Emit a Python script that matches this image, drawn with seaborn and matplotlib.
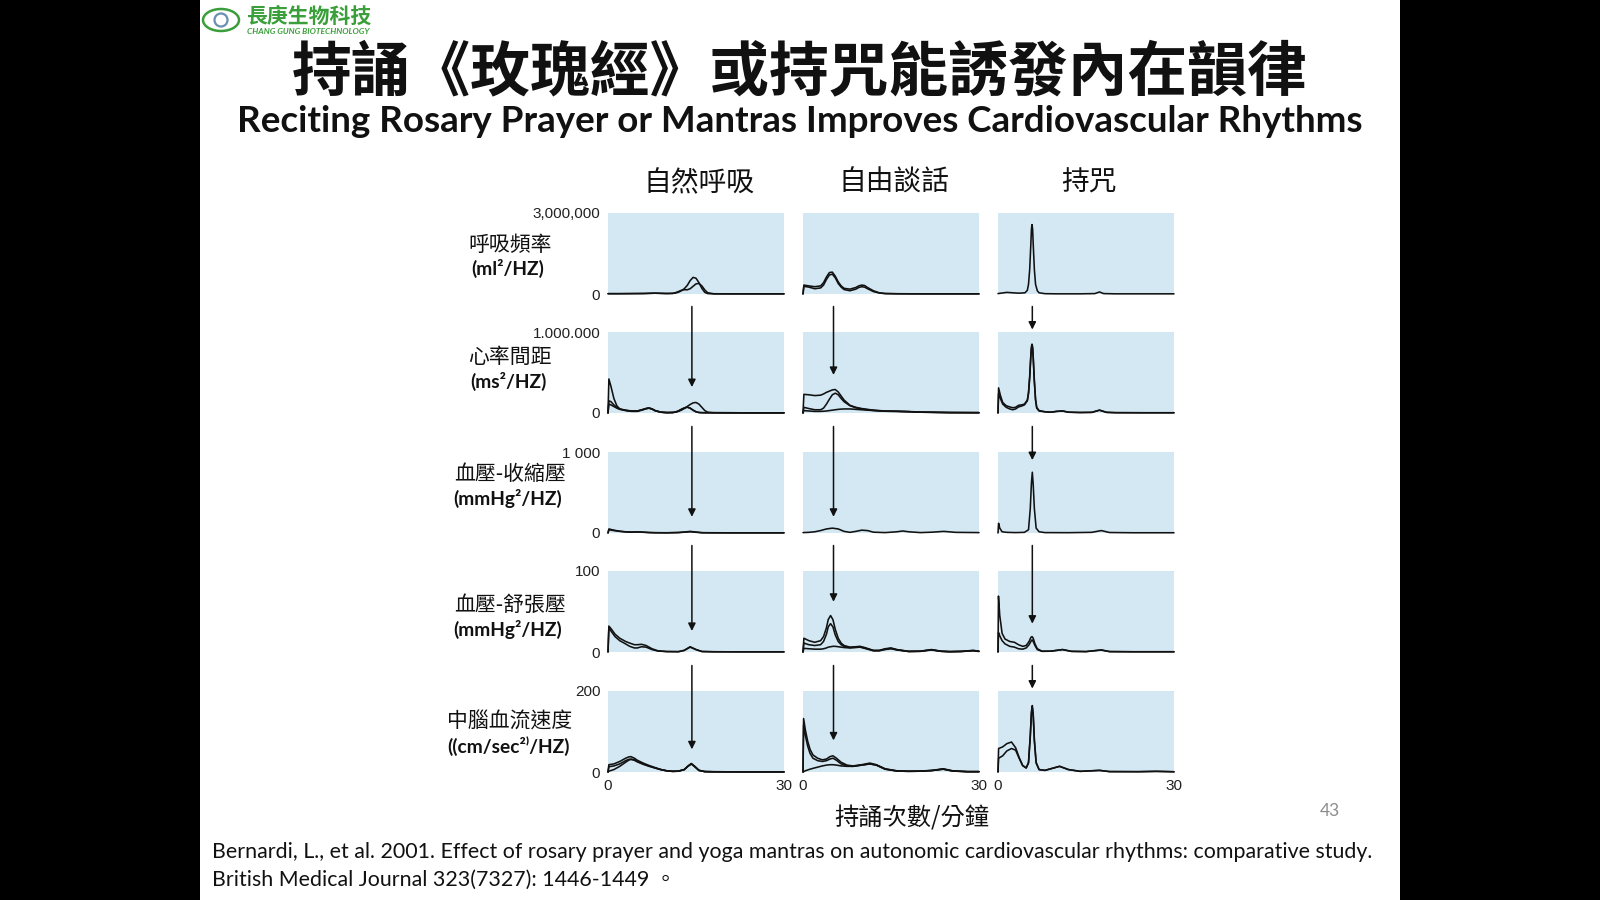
import matplotlib
matplotlib.use("Agg")
import matplotlib.pyplot as plt
from matplotlib.patches import Rectangle, Ellipse
import pandas as pd
import seaborn as sns

# ---------------- values (x = cycles per minute) ----------------
# respiration (ml^2/Hz), values in thousands
resp_nat_f = [0, 2, 4, 6, 8, 9, 10, 11, 11.5, 12, 12.5, 13, 13.5, 14, 14.5, 15, 15.5, 16, 16.5, 17, 18, 20, 24, 30]
resp_nat_a = [12, 12, 15, 18, 30, 24, 18, 21, 36, 66, 120, 195, 315, 495, 615, 585, 420, 210, 60, 15, 6, 6, 6, 6]
resp_nat_b = [12, 12, 15, 18, 30, 24, 18, 24, 48, 90, 135, 159, 156, 195, 285, 375, 390, 300, 150, 45, 9, 6, 6, 6]

resp_talk_f = [0, 0.15, 1, 2, 3, 3.5, 4, 4.5, 5, 5.5, 6, 6.5, 7, 8, 9, 9.5, 10, 10.5, 11, 12, 13, 14, 16, 20, 25, 30]
resp_talk_a = [0, 330, 300, 270, 300, 420, 630, 795, 810, 660, 450, 300, 210, 180, 240, 300, 330, 315, 240, 120, 45, 18, 9, 6, 6, 6]
resp_talk_b = [0, 285, 255, 195, 225, 330, 540, 705, 735, 600, 390, 255, 165, 120, 180, 240, 270, 255, 195, 90, 36, 15, 9, 6, 6, 6]

resp_mant_f = [0, 1, 1.5, 2.5, 3.5, 4.6, 5.0, 5.2, 5.4, 5.6, 5.7, 5.8, 5.9, 6.0, 6.2, 6.4, 6.7, 7, 8, 10, 14, 16.5, 17.3, 18, 20, 25, 30]
resp_mant_a = [15, 45, 60, 45, 30, 45, 135, 360, 900, 1860, 2400, 2570, 2400, 1860, 900, 360, 120, 45, 12, 6, 6, 15, 75, 15, 6, 6, 6]

# RR interval (ms^2/Hz), values in thousands
rr_nat_f = [0, 0.15, 0.5, 1, 1.5, 2, 3, 4, 5, 6, 6.5, 7, 7.5, 8, 9, 10, 11, 11.5, 12, 12.5, 13, 13.5, 14, 14.5, 15, 15.5, 16, 16.5, 17, 18, 20, 25, 30]
rr_nat_a = [0, 420, 330, 180, 90, 50, 30, 20, 20, 40, 55, 60, 50, 30, 10, 5, 6, 10, 20, 35, 55, 80, 105, 125, 130, 110, 70, 30, 10, 4, 3, 2, 2]
rr_nat_b = [0, 150, 140, 100, 70, 50, 35, 25, 25, 45, 55, 60, 50, 30, 10, 5, 6, 12, 25, 45, 62, 72, 60, 35, 15, 6, 4, 3, 3, 3, 3, 2, 2]
rr_nat_c = [0, 110, 100, 80, 60, 45, 32, 24, 24, 44, 55, 60, 50, 30, 10, 5, 6, 12, 25, 45, 62, 72, 60, 35, 15, 6, 4, 3, 3, 3, 3, 2, 2]

rr_talk_f = [0, 0.15, 1, 2, 3, 3.5, 4, 4.5, 5, 5.5, 6, 6.5, 7, 8, 9, 10, 11, 12, 14, 16, 18, 20, 25, 30]
rr_talk_a = [0, 230, 225, 215, 220, 235, 255, 270, 285, 290, 260, 210, 160, 95, 70, 55, 45, 35, 25, 22, 18, 12, 6, 4]
rr_talk_b = [0, 70, 55, 40, 40, 60, 110, 170, 225, 245, 225, 180, 140, 90, 65, 50, 40, 32, 22, 20, 16, 10, 5, 4]
rr_talk_c = [0, 30, 25, 20, 20, 22, 25, 30, 35, 40, 45, 48, 50, 50, 45, 40, 35, 30, 22, 20, 16, 10, 5, 4]

rr_mant_f = [0, 0.1, 0.4, 0.8, 1.4, 2, 2.5, 3, 3.5, 4, 4.5, 5, 5.2, 5.4, 5.6, 5.7, 5.8, 5.9, 6.0, 6.2, 6.4, 6.6, 7, 8, 9, 10, 11, 12, 14, 16, 17.3, 18.5, 20, 25, 30]
rr_mant_a = [0, 310, 220, 130, 90, 75, 65, 70, 95, 100, 110, 160, 250, 450, 720, 820, 850, 820, 700, 400, 170, 70, 30, 15, 10, 20, 25, 10, 6, 8, 35, 8, 4, 3, 3]
rr_mant_b = [0, 240, 180, 110, 70, 50, 40, 50, 75, 85, 100, 150, 240, 430, 700, 800, 820, 800, 680, 380, 160, 60, 25, 15, 10, 20, 25, 10, 6, 8, 35, 8, 4, 3, 3]

# systolic pressure (mmHg^2/Hz)
sbp_nat_f = [0, 0.15, 1, 2, 3, 4, 5, 6, 7, 8, 10, 12, 13, 14, 15, 16, 18, 22, 26, 30]
sbp_nat_a = [0, 50, 35, 22, 15, 12, 14, 11, 6, 4, 3, 6, 12, 20, 12, 4, 3, 2, 2, 2]
sbp_nat_b = [0, 40, 30, 20, 13, 10, 12, 9, 5, 3, 2, 5, 10, 15, 9, 3, 2, 2, 2, 2]

sbp_talk_f = [0, 1, 2, 3, 4, 5, 6, 7, 8, 9, 10, 11, 12, 14, 16, 17, 18, 20, 22, 24, 26, 30]
sbp_talk_a = [5, 8, 15, 30, 50, 60, 50, 20, 8, 20, 35, 30, 10, 5, 15, 25, 15, 5, 10, 20, 8, 5]

sbp_mant_f = [0, 0.1, 0.3, 0.7, 1.5, 3, 4.5, 5.2, 5.5, 5.7, 5.85, 6.0, 6.2, 6.5, 7, 8, 12, 16, 17.6, 19, 23, 30]
sbp_mant_a = [0, 120, 60, 15, 8, 5, 8, 40, 300, 620, 750, 600, 300, 60, 15, 5, 4, 8, 30, 6, 3, 3]

# diastolic pressure (mmHg^2/Hz)
dbp_nat_f = [0, 0.15, 0.6, 1.2, 2, 3, 3.7, 4.5, 5, 5.7, 6.5, 7.5, 8.5, 10, 12, 13, 14, 15, 16, 18, 22, 26, 30]
dbp_nat_a = [0, 32, 28, 22, 17, 13, 11, 9, 9, 9.5, 8, 4, 1.5, 0.6, 0.4, 2, 6.5, 3, 0.6, 0.3, 0.2, 0.2, 0.2]
dbp_nat_b = [0, 30, 25, 19, 14, 10, 7, 5, 5, 6.5, 6, 3, 1.2, 0.5, 0.4, 2, 6, 3, 0.6, 0.3, 0.2, 0.2, 0.2]

dbp_talk_f = [0, 0.15, 1, 2, 3, 3.5, 4, 4.3, 4.7, 5.1, 5.5, 6, 6.5, 7, 8, 9, 9.7, 10.5, 12, 13, 14, 15, 16, 18, 20, 21.9, 23.5, 25, 27, 29, 30]
dbp_talk_a = [0, 17, 14, 12, 14, 19, 30, 40, 45, 40, 28, 17, 11, 8, 6, 6.5, 7, 5.5, 2, 2, 4, 5, 3, 0.8, 1, 3, 1, 0.5, 0.8, 2, 1]
dbp_talk_b = [0, 11, 9, 8, 9, 13, 22, 31, 35, 31, 21, 13, 9, 7, 5.5, 6, 6.5, 5, 1.8, 1.8, 3.5, 4.5, 2.8, 0.7, 0.9, 2.8, 0.9, 0.4, 0.7, 1.8, 0.8]
dbp_talk_c = [0, 4.5, 4, 3.5, 3.5, 4, 5, 6, 6.5, 7, 7, 6.5, 6, 5.5, 5, 5.5, 6, 4.5, 1.5, 1.5, 3, 4, 2.5, 0.6, 0.8, 2.5, 0.8, 0.4, 0.6, 1.5, 0.7]

dbp_mant_f = [0, 0.08, 0.3, 0.7, 1.2, 2, 2.8, 3.5, 4.2, 4.8, 5.3, 5.6, 5.8, 6.0, 6.3, 6.7, 7.5, 9, 11, 12.5, 15, 17.6, 19, 23, 30]
dbp_mant_a = [0, 69, 45, 23, 16, 13, 12, 9, 7, 8, 13, 18, 19, 17, 10, 4, 1, 1, 3, 0.8, 0.5, 2.5, 0.5, 0.3, 0.3]
dbp_mant_b = [0, 24, 20, 14, 10, 7, 6, 4, 3.5, 5, 9, 13, 15, 13, 8, 3, 0.8, 1, 3, 0.8, 0.5, 2.5, 0.5, 0.3, 0.3]

# middle cerebral artery flow velocity ((cm/sec^2)/Hz)
mca_nat_f = [0, 0.15, 1, 2, 3, 3.5, 3.9, 4.5, 5, 6, 7, 8, 9, 10, 11, 12, 13, 13.6, 14.2, 14.8, 15.5, 16.5, 18, 22, 26, 30]
mca_nat_a = [0, 18, 20, 26, 34, 37, 38, 34, 29, 22, 16, 11, 6, 3, 1.6, 2, 6, 14, 21, 14, 4, 1, 0.6, 0.4, 0.4, 0.4]
mca_nat_b = [0, 13, 15, 20, 28, 31, 32, 30, 26, 20, 15, 10, 6, 3, 1.6, 2, 6, 14, 20, 13, 4, 1, 0.6, 0.4, 0.4, 0.4]
mca_nat_c = [0, 2, 6, 14, 24, 29, 31, 29, 25, 19, 14, 10, 6, 3, 1.6, 2, 6, 14, 20, 13, 4, 1, 0.6, 0.4, 0.4, 0.4]

mca_talk_f = [0, 0.1, 0.4, 0.8, 1.2, 1.7, 2.5, 3.3, 4, 4.6, 5.1, 5.7, 6.5, 7.5, 8.5, 10, 11.4, 12.5, 14, 16, 18, 20, 22, 23.9, 25.5, 28, 30]
mca_talk_a = [0, 132, 104, 76, 56, 42, 34, 30, 32, 38, 40, 34, 24, 17, 15, 18, 22, 18, 8, 3, 2, 2.4, 4, 8, 3, 1, 1]
mca_talk_b = [0, 116, 90, 64, 46, 34, 28, 26, 28, 32, 34, 29, 20, 15, 14, 17, 20, 17, 7, 2.4, 1.6, 2, 3.6, 7, 2.4, 0.8, 0.8]
mca_talk_c = [0, 1, 3, 5, 7, 9, 12, 15, 17, 18, 18, 17, 15, 14, 14, 17, 20, 17, 7, 2.4, 1.6, 2, 3.6, 7, 2.4, 0.8, 0.8]

mca_mant_f = [0, 0.1, 0.8, 1.5, 2.3, 3, 3.6, 4.2, 4.8, 5.2, 5.5, 5.7, 5.85, 6.0, 6.2, 6.5, 7, 8, 9, 10.5, 12, 14, 17.3, 19, 24, 27, 30]
mca_mant_a = [0, 58, 62, 70, 74, 60, 36, 16, 10, 24, 90, 150, 164, 144, 80, 24, 6, 4, 8, 14, 6, 1.6, 4, 1, 0.8, 1.6, 0.6]
mca_mant_b = [0, 34, 40, 52, 58, 54, 34, 16, 10, 22, 86, 144, 158, 140, 76, 22, 6, 4, 8, 14, 6, 1.6, 4, 1, 0.8, 1.6, 0.6]

row_names = ["呼吸頻率", "心率間距", "血壓-收縮壓", "血壓-舒張壓", "中腦血流速度"]
row_units = ["(ml²/HZ)", "(ms²/HZ)", "(mmHg²/HZ)", "(mmHg²/HZ)", "((cm/sec²⁾/HZ)"]
row_unit_factor = [1000, 1000, 1, 1, 1]
row_ymax = [3000000, 1000000, 1000, 100, 200]
row_ymax_labels = ["3,000,000", "1.000.000", "1 000", "100", "200"]
col_names = ["自然呼吸", "自由談話", "持咒"]
x_ticks = [0, 30]

# arrows: frequency of each condition, tip height (fraction of panel) for rows 2-5
arrow_freq = [14.3, 5.2, 5.85]
arrow_tip = [[0.32, 0.47, 1.03],
             [0.20, 0.20, 0.90],
             [0.26, 0.62, 0.35],
             [0.28, 0.39, 1.03]]

panels = {
    (0, 0): (resp_nat_f, [resp_nat_a, resp_nat_b]),
    (0, 1): (resp_talk_f, [resp_talk_a, resp_talk_b]),
    (0, 2): (resp_mant_f, [resp_mant_a]),
    (1, 0): (rr_nat_f, [rr_nat_a, rr_nat_b, rr_nat_c]),
    (1, 1): (rr_talk_f, [rr_talk_a, rr_talk_b, rr_talk_c]),
    (1, 2): (rr_mant_f, [rr_mant_a, rr_mant_b]),
    (2, 0): (sbp_nat_f, [sbp_nat_a, sbp_nat_b]),
    (2, 1): (sbp_talk_f, [sbp_talk_a]),
    (2, 2): (sbp_mant_f, [sbp_mant_a]),
    (3, 0): (dbp_nat_f, [dbp_nat_a, dbp_nat_b]),
    (3, 1): (dbp_talk_f, [dbp_talk_a, dbp_talk_b, dbp_talk_c]),
    (3, 2): (dbp_mant_f, [dbp_mant_a, dbp_mant_b]),
    (4, 0): (mca_nat_f, [mca_nat_a, mca_nat_b, mca_nat_c]),
    (4, 1): (mca_talk_f, [mca_talk_a, mca_talk_b, mca_talk_c]),
    (4, 2): (mca_mant_f, [mca_mant_a, mca_mant_b]),
}

frames = []
for (r, c), (freq, traces) in panels.items():
    for k, tr in enumerate(traces):
        frames.append(pd.DataFrame({"row": r, "col": c, "trace": k, "freq": freq,
                                    "power": [v * row_unit_factor[r] for v in tr]}))
df = pd.concat(frames, ignore_index=True)

# ---------------- drawing ----------------
sns.set_style("white")
plt.rcParams['font.family'] = ['Liberation Sans', 'Noto Sans CJK TC', 'DejaVu Sans']
CJK = ['Noto Sans CJK TC', 'DejaVu Sans']
LAT = ['Lato', 'Noto Sans CJK TC', 'DejaVu Sans']

W, H = 1600, 900
fig = plt.figure(figsize=(16, 9), dpi=100, facecolor='black')
fig.patches.append(Rectangle((200 / W, 0), 1200 / W, 1, transform=fig.transFigure,
                             facecolor='white', edgecolor='none', zorder=-5))


def fx(x):
    return x / W


def fy(y):
    return 1 - y / H


col_left = [608, 803, 998]
row_top = [213, 332, 452, 571, 691]
pw, ph = 176, 81
panel_bg = '#d3e8f3'

for r in range(5):
    for c in range(3):
        ax = fig.add_axes([fx(col_left[c]), fy(row_top[r] + ph), pw / W, ph / H])
        ax.set_facecolor(panel_bg)
        sub = df[(df.row == r) & (df.col == c)]
        sns.lineplot(data=sub, x='freq', y='power', units='trace', estimator=None,
                     color='#111111', linewidth=1.15, ax=ax, legend=False, sort=False)
        for ln in ax.lines:
            ln.set_clip_on(False)
            ln.set_solid_joinstyle('round')
        ax.set_xlim(0, 30)
        ax.set_ylim(0, row_ymax[r])
        for s in ax.spines.values():
            s.set_visible(False)
        ax.set_xlabel('')
        ax.set_ylabel('')
        ax.tick_params(length=0, labelsize=11, colors='#222222')
        if c == 0:
            ax.set_yticks([0, row_ymax[r]])
            ax.set_yticklabels(['0', row_ymax_labels[r]])
            ax.tick_params(axis='y', pad=5.5)
        else:
            ax.set_yticks([])
        if r == 4:
            ax.set_xticks(x_ticks)
            ax.set_xticklabels([str(t) for t in x_ticks])
            ax.tick_params(axis='x', pad=5)
        else:
            ax.set_xticks([])
        if r >= 1:
            ax.annotate('', xy=(arrow_freq[c], arrow_tip[r - 1][c]), xycoords=('data', 'axes fraction'),
                        xytext=(arrow_freq[c], 1.315), textcoords=('data', 'axes fraction'),
                        arrowprops=dict(arrowstyle='-|>', color='#111111', lw=1.1,
                                        mutation_scale=11, shrinkA=0, shrinkB=0),
                        annotation_clip=False)
        if r == 0:
            ax.text(0.5 + 3 / pw, 1 + 30 / ph, col_names[c], transform=ax.transAxes,
                    ha='center', va='center', fontsize=20, family=CJK, color='#111111')

# row labels
label_y = [245, 357, 474, 605, 722]
unit_y = [268, 381, 498, 629, 746]
for r in range(5):
    fig.text(fx(510), fy(label_y[r]), row_names[r], ha='center', va='center',
             fontsize=15, family=CJK, color='#111111')
    fig.text(fx(508), fy(unit_y[r]), row_units[r], ha='center', va='center',
             fontsize=13.8, family=LAT, weight='bold', color='#111111')

# titles
fig.text(0.5, fy(73), "持誦《玫瑰經》或持咒能誘發內在韻律", ha='center', va='center',
         fontsize=43, family=CJK, weight='bold', color='#111111')
fig.text(0.5, fy(122), "Reciting Rosary Prayer or Mantras Improves Cardiovascular Rhythms",
         ha='center', va='center', fontsize=26.5, family=LAT, weight='bold', color='#111111')

# x label, page number, citation
fig.text(fx(912), fy(818), "持誦次數/分鐘", ha='center', va='center', fontsize=17.5,
         family=CJK, color='#111111')
fig.text(fx(1330), fy(811), "43", ha='center', va='center', fontsize=12.5, family=LAT,
         color='#8c8c8c')
fig.text(fx(212), fy(852), "Bernardi, L., et al. 2001. Effect of rosary prayer and yoga mantras on "
         "autonomic cardiovascular rhythms: comparative study.", ha='left', va='center',
         fontsize=15.4, family=LAT, color='#111111')
fig.text(fx(212), fy(880), "British Medical Journal 323(7327): 1446-1449 。", ha='left',
         va='center', fontsize=15.4, family=LAT, color='#111111')

# logo
green = '#3a9f3a'
fig.patches.append(Ellipse((fx(221), fy(20)), 36 / W, 22 / H, transform=fig.transFigure,
                           fill=False, edgecolor=green, lw=1.8))
fig.patches.append(Ellipse((fx(221), fy(20)), 13 / W, 13 / H, transform=fig.transFigure,
                           fill=False, edgecolor='#6a8fb0', lw=1.6))
fig.text(fx(246), fy(16), "長庚生物科技", ha='left', va='center', fontsize=15,
         family=CJK, weight='bold', color=green)
fig.text(fx(247), fy(32), "CHANG GUNG BIOTECHNOLOGY", ha='left', va='center', fontsize=6,
         family=LAT, weight='bold', style='italic', color=green)

fig.savefig('out.png', dpi=100, facecolor=fig.get_facecolor())
